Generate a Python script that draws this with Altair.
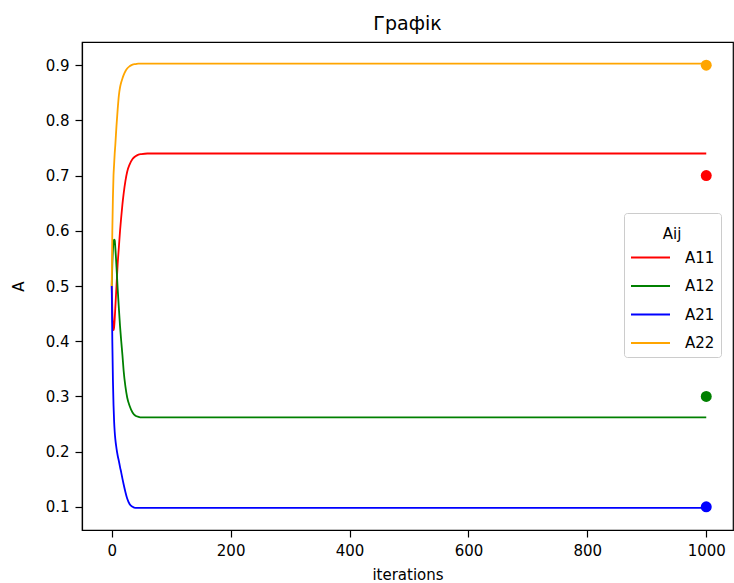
import altair as alt
import pandas as pd

iterations = [0, 1, 2, 3, 4, 5, 6, 8, 10, 12, 14, 16, 18, 20, 23, 26, 30, 35, 40, 45, 50, 60, 80, 100, 1000]
a11 = [0.5, 0.455, 0.43, 0.42, 0.425, 0.44, 0.46, 0.50, 0.54, 0.57, 0.60, 0.625, 0.648, 0.667, 0.69, 0.707,
       0.72, 0.73, 0.735, 0.738, 0.739, 0.74, 0.74, 0.74, 0.74]
a12 = [0.5, 0.54, 0.565, 0.58, 0.584, 0.583, 0.57, 0.535, 0.495, 0.46, 0.427, 0.40, 0.375, 0.347, 0.318, 0.298,
       0.283, 0.271, 0.265, 0.263, 0.262, 0.262, 0.262, 0.262, 0.262]
a21 = [0.5, 0.40, 0.33, 0.285, 0.255, 0.236, 0.223, 0.206, 0.193, 0.183, 0.172, 0.162, 0.151, 0.141, 0.127, 0.115,
       0.105, 0.1, 0.098, 0.098, 0.098, 0.098, 0.098, 0.098, 0.098]
a22 = [0.5, 0.6, 0.66, 0.70, 0.72, 0.74, 0.755, 0.79, 0.82, 0.845, 0.86, 0.869, 0.876, 0.882, 0.889, 0.894,
       0.898, 0.901, 0.902, 0.903, 0.903, 0.903, 0.903, 0.903, 0.903]

series_names = ["A11", "A12", "A21", "A22"]
series_colors = ["red", "green", "blue", "orange"]
target_x = [1000, 1000, 1000, 1000]
target_values = [0.7, 0.3, 0.1, 0.9]

rows = []
for name, vals in zip(series_names, [a11, a12, a21, a22]):
    for it, v in zip(iterations, vals):
        rows.append({"iteration": it, "A": v, "Aij": name})
lines_df = pd.DataFrame(rows)
points_df = pd.DataFrame({"iteration": target_x, "A": target_values, "Aij": series_names})

FONT = "DejaVu Sans"

x_scale = alt.Scale(domain=[-50, 1045], nice=False, zero=False)
y_scale = alt.Scale(domain=[0.058, 0.942], nice=False, zero=False)
color_scale = alt.Scale(domain=series_names, range=series_colors)

lines = alt.Chart(lines_df).mark_line(strokeWidth=1.8, interpolate="monotone").encode(
    x=alt.X("iteration:Q", scale=x_scale,
            axis=alt.Axis(title="iterations", values=[0, 200, 400, 600, 800, 1000], format="d")),
    y=alt.Y("A:Q", scale=y_scale,
            axis=alt.Axis(title="A", values=[0.1, 0.2, 0.3, 0.4, 0.5, 0.6, 0.7, 0.8, 0.9], format=".1f")),
    color=alt.Color("Aij:N", scale=color_scale,
                    legend=alt.Legend(title="Aij", orient="none", legendX=542, legendY=171,
                                      symbolType="M-1,0H2.12", symbolSize=625, symbolStrokeWidth=2,
                                      titleAnchor="middle", titleFontSize=15, labelFontSize=15,
                                      titleFont=FONT, labelFont=FONT, titleFontWeight="normal",
                                      titleColor="black", labelColor="black", titlePadding=10,
                                      titleBaseline="line-top", titleLineHeight=31,
                                      fillColor="white", strokeColor="#cccccc", cornerRadius=3,
                                      padding=6, labelOffset=28, rowPadding=6.5)),
    detail="Aij:N",
)

points = alt.Chart(points_df).mark_circle(size=120, opacity=1).encode(
    x=alt.X("iteration:Q", scale=x_scale),
    y=alt.Y("A:Q", scale=y_scale),
    color=alt.Color("Aij:N", scale=color_scale, legend=None),
)

chart = (lines + points).properties(
    width=651, height=488,
    title=alt.Title("Графік", font=FONT, fontSize=19, fontWeight="normal", color="black", offset=8),
    autosize=alt.AutoSizeParams(type="none"),
    padding={"left": 82, "top": 42, "right": 1, "bottom": 53},
).configure_view(
    stroke="black", strokeWidth=1.2
).configure_axis(
    grid=False, domainColor="black", tickColor="black", tickSize=7, labelFont=FONT, titleFont=FONT,
    labelFontSize=15, titleFontSize=15, labelColor="black", titleColor="black", titleFontWeight="normal",
    labelPadding=6, domainWidth=1.2, tickWidth=1.2,
).configure_axisX(titlePadding=9).configure_axisY(titlePadding=19)

chart.save("out.html", embed_options={"renderer": "svg", "actions": False})
